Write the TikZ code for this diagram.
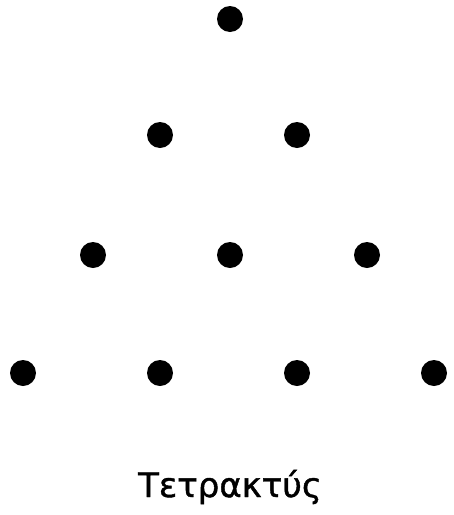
\documentclass[tikz,border=0pt]{standalone}
\usepackage{fontspec}
\newfontfamily\greekfont[FakeBold=1.2]{DejaVu Sans}
\begin{document}
\begin{tikzpicture}[x=1pt,y=-1pt,dot/.style={circle,fill=black,inner sep=0pt,minimum size=26pt}]
\useasboundingbox (0,0) rectangle (454,515);
\node[dot] (d1) at (230,19) {};
\node[dot] (d2) at (160,135) {};
\node[dot] (d3) at (297,135) {};
\node[dot] (d4) at (93,255) {};
\node[dot] (d5) at (230,255) {};
\node[dot] (d6) at (367,255) {};
\node[dot] (d7) at (23,373) {};
\node[dot] (d8) at (160,373) {};
\node[dot] (d9) at (297,373) {};
\node[dot] (d10) at (434,373) {};
\node[font=\greekfont\fontsize{34}{40}\selectfont,inner sep=0pt] (t) at (230,487) {Τετρακτύς};
\end{tikzpicture}
\end{document}
